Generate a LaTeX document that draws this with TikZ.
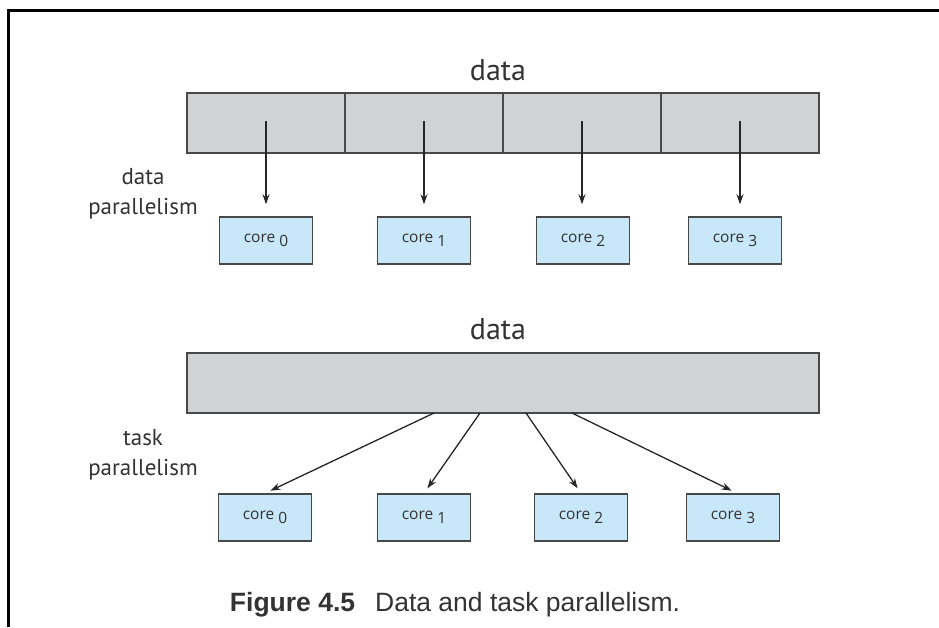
\documentclass[tikz,border=0pt]{standalone}
\usepackage{fontspec}
\setmainfont{PT Sans}
\newfontfamily\capfont{Liberation Sans}
\newfontfamily\corefont{Open Sans}
\usetikzlibrary{arrows.meta}
\definecolor{barfill}{HTML}{D1D2D4}
\definecolor{corefill}{HTML}{C8E8FA}
\definecolor{edgegray}{HTML}{484848}
\definecolor{txt}{HTML}{333333}
\begin{document}
\begin{tikzpicture}[x=1pt,y=-1pt,
  cell/.style={draw=edgegray,line width=1.8pt,fill=barfill,minimum width=158pt,minimum height=60pt,inner sep=0pt,outer sep=0pt},
  corebox/.style={draw=edgegray,line width=1.5pt,fill=corefill,minimum width=93pt,minimum height=47pt,inner sep=0pt,text=txt,font=\corefont\fontsize{15.5}{18}\selectfont},
  lbl/.style={font=\fontsize{30}{32}\selectfont,text=txt},
  side/.style={font=\fontsize{23}{30}\selectfont,align=center,text=txt},
  arr/.style={-{Stealth[length=10pt,width=7pt]},line width=1.3pt,draw=black!85}]
\useasboundingbox (0,0) rectangle (939,627);
% frame
\draw[line width=3pt] (939,10) -- (8,10) -- (8,627);
% top: data parallelism
\node[lbl] (dtop) at (498,70) {data};
\node[cell] (d0) at (266,123) {};
\node[cell] (d1) at (424,123) {};
\node[cell] (d2) at (582,123) {};
\node[cell] (d3) at (740,123) {};
\node[side] (dp) at (143,194) {data\\parallelism};
\node[corebox] (c0) at (266,240.5) {core \raisebox{-0.5ex}{0}};
\node[corebox] (c1) at (424,240.5) {core \raisebox{-0.5ex}{1}};
\node[corebox] (c2) at (583,240.5) {core \raisebox{-0.5ex}{2}};
\node[corebox] (c3) at (735,240.5) {core \raisebox{-0.5ex}{3}};
\draw[arr,shorten >=12pt] ([yshift=2pt]d0.center) -- (d0.center |- c0.north);
\draw[arr,shorten >=12pt] ([yshift=2pt]d1.center) -- (d1.center |- c1.north);
\draw[arr,shorten >=12pt] ([yshift=2pt]d2.center) -- (d2.center |- c2.north);
\draw[arr,shorten >=12pt] ([yshift=2pt]d3.center) -- (d3.center |- c3.north);
% bottom: task parallelism
\node[lbl] (dbot) at (498,329) {data};
\node[cell,minimum width=632pt] (bar) at (503,383) {};
\node[side] (tp) at (143,455) {task\\parallelism};
\node[corebox] (t0) at (265,517.5) {core \raisebox{-0.5ex}{0}};
\node[corebox] (t1) at (424,517.5) {core \raisebox{-0.5ex}{1}};
\node[corebox] (t2) at (581,517.5) {core \raisebox{-0.5ex}{2}};
\node[corebox] (t3) at (733,517.5) {core \raisebox{-0.5ex}{3}};
\draw[arr,shorten >=6pt] ([xshift=-69pt]bar.south) -- (t0.north);
\draw[arr,shorten >=6pt] ([xshift=-23pt]bar.south) -- (t1.north);
\draw[arr,shorten >=6pt] ([xshift=23pt]bar.south) -- (t2.north);
\draw[arr,shorten >=6pt] ([xshift=69pt]bar.south) -- ([xshift=4pt]t3.north);
% caption
\node[font=\capfont\fontsize{26.5}{30}\selectfont,text=txt] (cap) at (455,605) {\textbf{Figure 4.5}\hspace{20pt}Data and task parallelism.};
\end{tikzpicture}
\end{document}
